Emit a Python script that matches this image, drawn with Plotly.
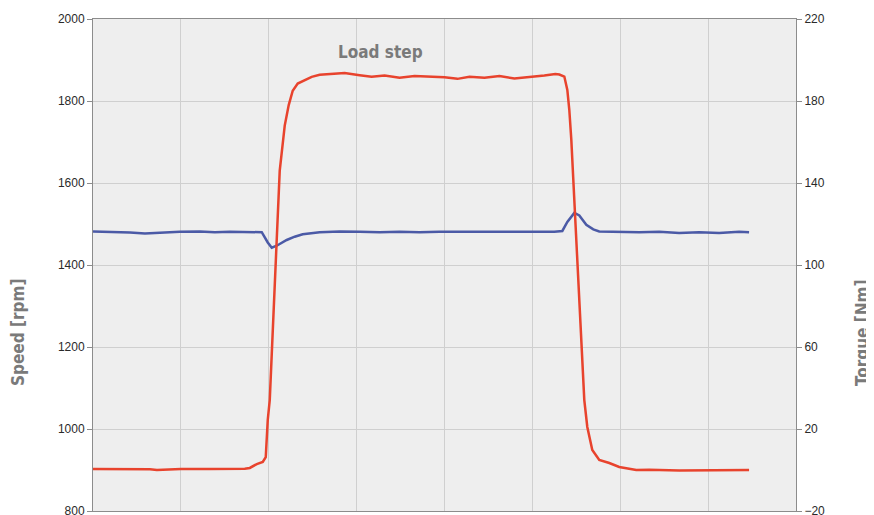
import plotly.graph_objects as go

# Time in grid units (8 major divisions across the plot)
torque_px = [93, 120, 150, 157, 181, 210, 245, 250, 257, 263, 266, 268, 270, 280, 285, 289, 293, 298, 304, 312,
             320, 330, 345, 360, 372, 385, 400, 415, 430, 445, 458, 470, 485, 500, 515, 530, 545, 556, 560, 565,
             568, 570, 572, 585, 588, 593, 600, 610, 620, 637, 650, 680, 707, 730, 750]
torque_nm = [0.5, 0.5, 0.4, 0.0, 0.5, 0.5, 0.6, 1.0, 2.9, 3.9, 6.3, 24.4, 34.1, 146.0, 168.0, 178.0, 185.0, 188.5, 189.8, 191.8,
             192.8, 193.0, 193.6, 192.6, 191.8, 192.4, 191.4, 192.2, 192.0, 191.6, 190.8, 191.8, 191.4, 192.2, 191.0, 191.6, 192.4, 193.2, 192.9, 191.9,
             185.4, 175.6, 161.0, 34.1, 21.0, 9.8, 4.9, 3.4, 1.5, 0.0, 0.1, -0.2, 0.0, 0.1, 0.0]

speed_px = [93, 110, 130, 145, 165, 180, 200, 215, 230, 250, 262, 268, 272, 277, 287, 295, 303, 320, 340, 360,
            380, 400, 420, 440, 460, 480, 500, 520, 540, 555, 563, 568, 575, 580, 587, 594, 600, 620, 640, 660,
            680, 700, 720, 740, 750]
speed_rpm = [1482, 1481, 1479, 1477, 1480, 1481, 1482, 1480, 1481, 1481, 1480, 1455, 1442, 1447, 1461, 1469, 1475, 1480, 1482, 1481,
             1480, 1481, 1480, 1481, 1481, 1480, 1481, 1481, 1480, 1481, 1483, 1505, 1527, 1521, 1498, 1487, 1482, 1481, 1480, 1481,
             1478, 1480, 1478, 1481, 1480]

# convert horizontal readings into time grid units
torque_t = [(p - 93) / 88 for p in torque_px]
speed_t = [(p - 93) / 88 for p in speed_px]

speed_ticks = [800, 1000, 1200, 1400, 1600, 1800, 2000]
torque_ticks = [-20, 20, 60, 100, 140, 180, 220]

# page body has an 8px margin: size the figure so the plot lands at 93..796 x 19..511
OFF = 8
W, H = 874 - OFF, 515 - OFF
L, R, T, B = 93 - OFF, 874 - 796, 19 - OFF, 515 - 511 - 0

fig = go.Figure()
fig.add_trace(go.Scatter(x=speed_t, y=speed_rpm, mode="lines", yaxis="y",
                         line=dict(color="#4b5aa6", width=2.5), showlegend=False))
fig.add_trace(go.Scatter(x=torque_t, y=torque_nm, mode="lines", yaxis="y2",
                         line=dict(color="#e8432d", width=2.5), showlegend=False))

tickfont = dict(family="Liberation Sans, Arial, sans-serif", size=12, color="#2a2a2a")
title_font = dict(family="DejaVu Sans Condensed, Liberation Sans Narrow, sans-serif", size=17, color="#7a7a7a")
fig.update_layout(
    width=W, height=H,
    margin=dict(l=L, r=R, t=T, b=B, autoexpand=False),
    paper_bgcolor="white",
    plot_bgcolor="#eeeeee",
    xaxis=dict(range=[0, 8], dtick=1, showticklabels=False, showgrid=True,
               gridcolor="#cfcfcf", gridwidth=1, zeroline=False,
               showline=True, linecolor="#8c8c8c", linewidth=1, mirror=True, ticks=""),
    yaxis=dict(range=[800, 2000], tickvals=speed_ticks, showgrid=True, gridcolor="#cfcfcf",
               zeroline=False, showline=True, linecolor="#8c8c8c", linewidth=1,
               ticks="outside", ticklen=5, tickcolor="#8c8c8c", tickfont=tickfont,
               ticklabeloverflow="allow"),
    yaxis2=dict(range=[-20, 220], tickvals=torque_ticks, overlaying="y", side="right",
                showgrid=False, zeroline=False, showline=True, linecolor="#8c8c8c", linewidth=1,
                ticks="outside", ticklen=5, tickcolor="#8c8c8c", tickfont=tickfont,
                ticklabeloverflow="allow"),
    annotations=[
        dict(text="<b>Load step</b>", x=380, y=52, showarrow=False, font=title_font),
        dict(text="<b>Speed [rpm]</b>", x=18, y=333, textangle=-90, showarrow=False, font=title_font),
        dict(text="<b>Torque [Nm]</b>", x=862, y=333, textangle=-90, showarrow=False, font=title_font),
    ],
)

# position annotations given in screen pixels -> paper coords
pw, ph = 796 - 93, 511 - 19
for a in fig.layout.annotations:
    px_, py_ = a.x, a.y
    a.x = (px_ - 93) / pw
    a.y = 1 - (py_ - 19) / ph
    a.xref = "paper"
    a.yref = "paper"
    a.xanchor = "center"
    a.yanchor = "middle"

fig.write_html("out.html")
